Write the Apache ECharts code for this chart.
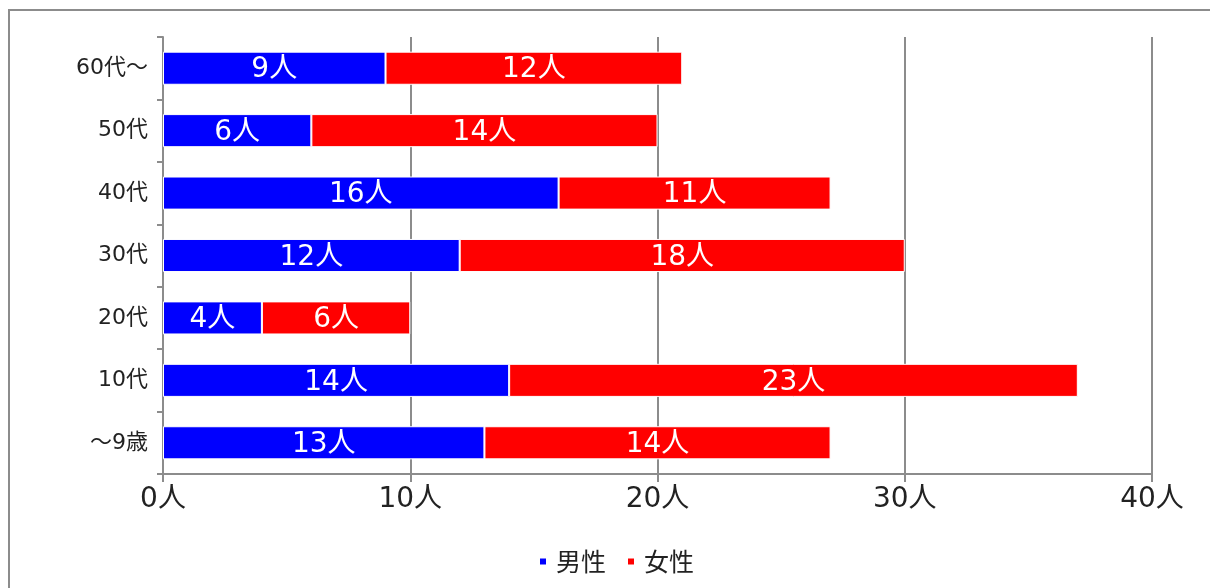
<!DOCTYPE html>
<html><head><meta charset="utf-8">
<script src="https://cdn.jsdelivr.net/npm/echarts@6/dist/echarts.min.js"></script>
<style>html,body{margin:0;padding:0;background:#fff}#c{width:1210px;height:588px}</style>
</head><body><div id="c"></div>
<script>
const categories = ['～9歳','10代','20代','30代','40代','50代','60代～'];
const male = [13,14,4,12,16,6,9];
const female = [14,23,6,18,11,14,12];
const seriesNames = ['男性','女性'];
const xTicks = [0,10,20,30,40];

const font = '"DejaVu Sans", "Noto Sans CJK JP", sans-serif';
const cjk = '"Noto Sans CJK JP", sans-serif';
const chart = echarts.init(document.getElementById('c'));
chart.setOption({
  animation:false,
  textStyle:{fontFamily:font},
  graphic:[{type:'rect',shape:{x:9,y:10,width:1400,height:700},style:{fill:null,stroke:'#8c8c8c',lineWidth:2},silent:true,z:-1}],
  grid:{left:163,right:58,top:37,bottom:114,containLabel:false},
  legend:{bottom:9,left:533,itemWidth:8,itemHeight:8,itemGap:20,icon:'rect',
    textStyle:{fontSize:25,color:'#222',fontFamily:cjk,padding:[0,0,0,4]},data:seriesNames},
  xAxis:{type:'value',min:xTicks[0],max:xTicks[xTicks.length-1],interval:10,
    axisLine:{show:true,lineStyle:{color:'#8c8c8c',width:2}},
    axisTick:{show:true,length:8,lineStyle:{color:'#8c8c8c',width:2}},
    splitLine:{show:true,lineStyle:{color:'#8c8c8c',width:2}},
    axisLabel:{formatter:'{value}人',fontSize:28,color:'#222',margin:12,fontFamily:font}},
  yAxis:{type:'category',data:categories,
    axisLine:{show:true,lineStyle:{color:'#8c8c8c',width:2}},
    axisTick:{show:true,length:6,inside:false,lineStyle:{color:'#8c8c8c',width:2}},
    axisLabel:{fontSize:22,color:'#222',margin:15,fontFamily:font}},
  series:[
    {name:seriesNames[0],type:'bar',stack:'a',data:male,barCategoryGap:'47%',
      itemStyle:{color:'#0000ff',borderColor:'#ffffff',borderWidth:1},
      label:{show:true,position:'inside',offset:[0,2],formatter:'{c}人',color:'#fff',fontSize:28,fontFamily:font}},
    {name:seriesNames[1],type:'bar',stack:'a',data:female,barCategoryGap:'47%',
      itemStyle:{color:'#ff0000',borderColor:'#ffffff',borderWidth:1},
      label:{show:true,position:'inside',offset:[0,2],formatter:'{c}人',color:'#fff',fontSize:28,fontFamily:font}}
  ]
});
</script></body></html>
